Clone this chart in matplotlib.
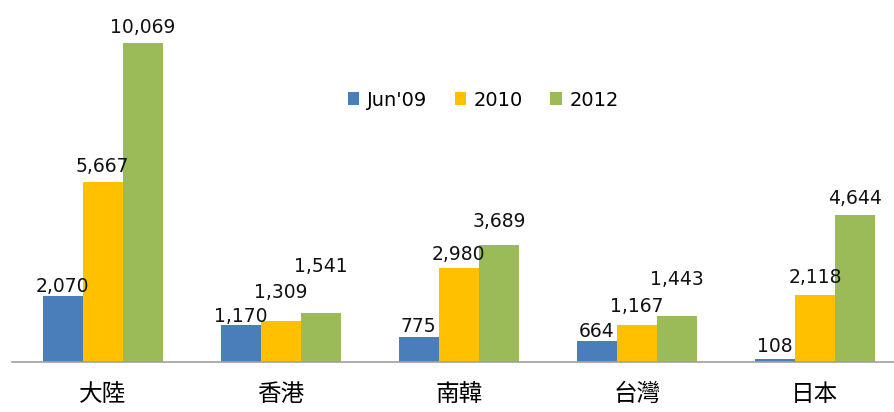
import matplotlib.pyplot as plt
import numpy as np

plt.rcParams['font.family'] = ['DejaVu Sans', 'Noto Sans CJK TC']

categories = ["大陸", "香港", "南韓", "台灣", "日本"]
series_names = ["Jun'09", "2010", "2012"]
jun09 = [2070, 1170, 775, 664, 108]
y2010 = [5667, 1309, 2980, 1167, 2118]
y2012 = [10069, 1541, 3689, 1443, 4644]
colors = ["#4A7EBB", "#FFC000", "#9BBB59"]

# gap (pixels) between bar top and its value label, as placed in the original
label_gaps = [
    [4, 3, 5, 4, 7],
    [10, 23, 8, 13, 12],
    [10, 41, 18, 31, 11],
]

fig = plt.figure(figsize=(8.95, 4.12), dpi=100)
ax = fig.add_axes([12 / 895, 50 / 412, 883 / 895, 362 / 412])

x = np.arange(len(categories))
width = 0.225
for i, (name, vals) in enumerate(zip(series_names, [jun09, y2010, y2012])):
    pos = x + (i - 1) * width
    bars = ax.bar(pos, vals, width, color=colors[i], label=name)
    for b, v, gap in zip(bars, vals, label_gaps[i]):
        ax.annotate(f"{v:,}", (b.get_x() + b.get_width() / 2, v),
                    xytext=(0, gap * 0.72), textcoords='offset points',
                    ha='center', va='baseline', fontsize=13.5, color='#111111')

ax.set_xlim(-0.51, 4.45)
ax.set_ylim(0, 11426)
ax.set_yticks([])
ax.set_xticks(x)
ax.set_xticklabels(categories, fontsize=17, family=['Noto Sans CJK TC', 'DejaVu Sans'])
ax.tick_params(axis='x', length=0, pad=15)
for s in ['top', 'right', 'left']:
    ax.spines[s].set_visible(False)
ax.spines['bottom'].set_color('#A0A0A0')
ax.spines['bottom'].set_linewidth(1.2)

ax.legend(loc='center', bbox_to_anchor=(490 / 895 - 12 / 883, 1 - 100 / 362),
          ncol=3, frameon=False, fontsize=14, handlelength=0.6, handleheight=0.6,
          handletextpad=0.4, columnspacing=1.4)

fig.savefig("out.png", dpi=100)
